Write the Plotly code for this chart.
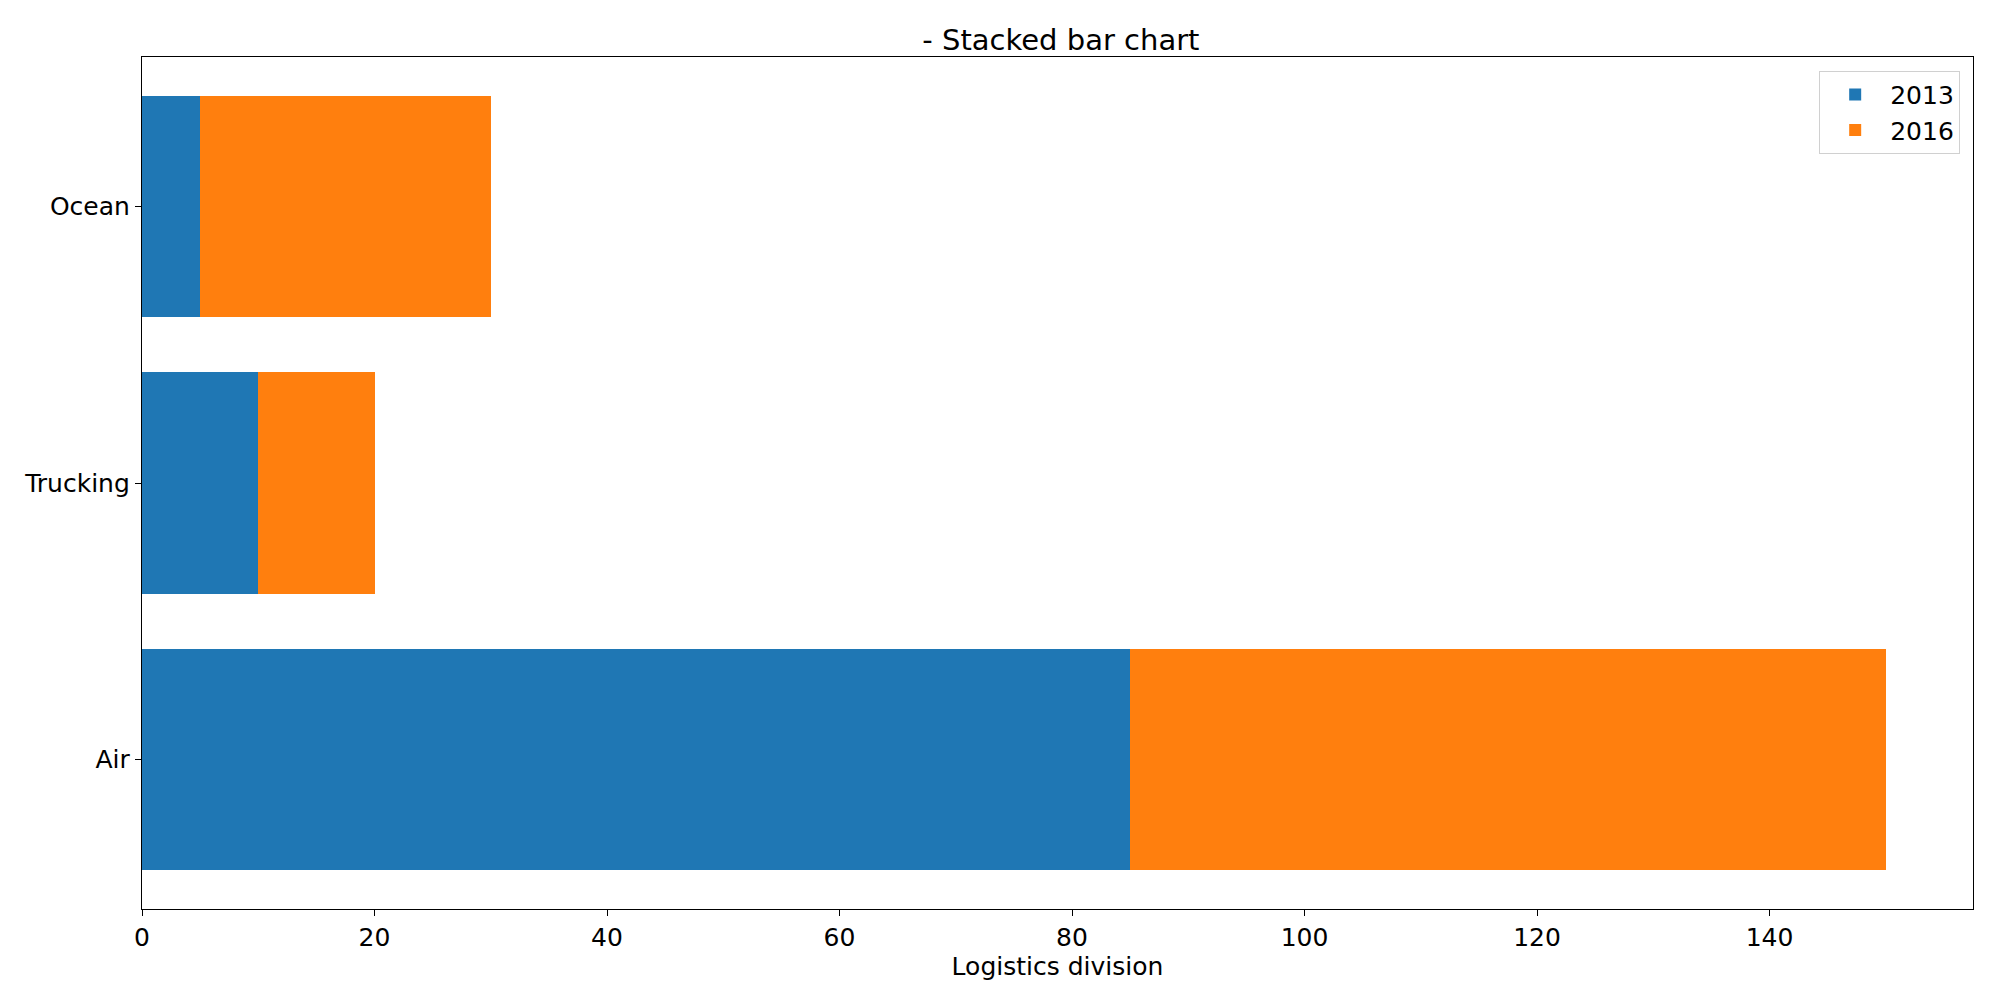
import plotly.graph_objects as go

divisions = ['Air', 'Trucking', 'Ocean']
values_2013 = [85, 10, 5]
values_2016 = [65, 10, 25]
x_ticks = [0, 20, 40, 60, 80, 100, 120, 140]

fig = go.Figure()
fig.add_trace(go.Bar(y = divisions, x = values_2013, name = '2013', orientation = 'h',
                     width = 0.8, marker = dict(color = '#1f77b4', line = dict(width = 0))))
fig.add_trace(go.Bar(y = divisions, x = values_2016, name = '2016', orientation = 'h',
                     width = 0.8, marker = dict(color = '#ff7f0e', line = dict(width = 0))))

# page body adds 8px margin, so the figure is sized to fit inside the window
fig.update_layout(
    barmode = 'stack',
    width = 1984, height = 984,
    plot_bgcolor = 'white', paper_bgcolor = 'white',
    font = dict(family = 'DejaVu Sans', size = 25, color = 'black'),
    margin = dict(l = 134, r = 19, t = 49, b = 83),
    title = dict(text = '- Stacked bar chart', x = 0.5307, xanchor = 'center',
                 y = 0.9675, yanchor = 'middle', font = dict(size = 29)),
    legend = dict(x = 0.993, y = 0.984, xanchor = 'right', yanchor = 'top',
                  bgcolor = 'white', bordercolor = '#d0d0d0', borderwidth = 1,
                  font = dict(size = 25), traceorder = 'normal', itemwidth = 60),
)
fig.update_xaxes(range = [0, 157.5], tickvals = x_ticks, showgrid = False, zeroline = False,
                 showline = True, linecolor = 'black', linewidth = 1.3, mirror = True,
                 ticks = 'outside', ticklen = 6, tickcolor = 'black',
                 title = dict(text = 'Logistics division', standoff = 0, font = dict(size = 25)))
fig.update_yaxes(range = [-0.54, 2.54], showgrid = False, zeroline = False,
                 showline = True, linecolor = 'black', linewidth = 1.3, mirror = True,
                 ticks = 'outside', ticklen = 6, tickcolor = 'black')

fig.write_html("out.html")
